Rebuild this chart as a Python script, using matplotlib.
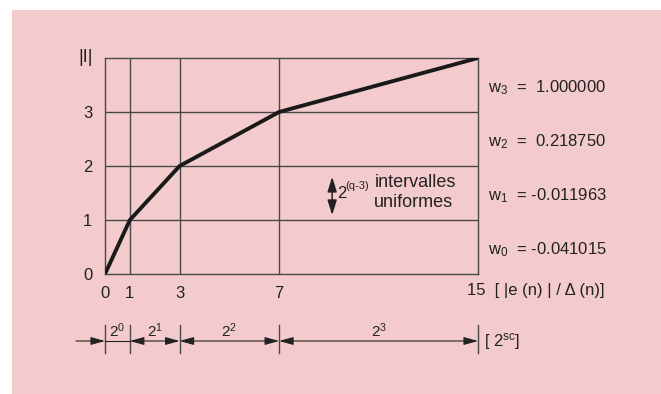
import matplotlib.pyplot as plt
from matplotlib.patches import Rectangle, FancyArrowPatch

plt.rcParams['font.family'] = ['Liberation Sans', 'DejaVu Sans']
plt.rcParams['mathtext.default'] = 'regular'

# quantizer characteristic: breakpoints of |e(n)|/delta(n) against |I|
x_break = [0, 1, 3, 7, 15]
i_level = [0, 1, 2, 3, 4]
x_ticks = [0, 1, 3, 7]
y_ticks = [0, 1, 2, 3]

# segment widths below the axis, 2^0 ... 2^3
seg_edges = [0, 1, 3, 7, 15]
seg_labels = ['$2^{0}$', '$2^{1}$', '$2^{2}$', '$2^{3}$']

# coefficient per level band
w_names = ['w$_{0}$', 'w$_{1}$', 'w$_{2}$', 'w$_{3}$']
w_values = ['-0.041015', '-0.011963', '0.218750', '1.000000']

INK = '#222222'
GRID = '#484848'
PINK = '#f3cbcc'
FS = 12

W, H = 661, 394
fig = plt.figure(figsize=(W / 100, H / 100), dpi=100)
fig.patch.set_facecolor('white')
fig.patches.append(Rectangle((12 / W, -0.1), 1.1, 1.1 - 10 / H, transform=fig.transFigure,
                             facecolor=PINK, edgecolor='none', zorder=-10))

ax = fig.add_axes([105 / W, (H - 274) / H, 373 / W, 216 / H])
ax.set_facecolor('none')
ax.set_xlim(0, 15)
ax.set_ylim(0, 4)
for s in ax.spines.values():
    s.set_color(GRID)
    s.set_linewidth(1.0)
for xv in x_ticks[1:]:
    ax.axvline(xv, color=GRID, lw=1.0)
for yv in y_ticks[1:]:
    ax.axhline(yv, color=GRID, lw=1.0)

ax.plot(x_break, i_level, color='#1a1a1a', lw=2.8, solid_capstyle='round', zorder=5)

ax.set_xticks(x_ticks)
ax.set_xticklabels([str(v) for v in x_ticks])
ax.set_yticks(y_ticks)
ax.set_yticklabels([str(v) for v in y_ticks])
ax.tick_params(length=0, labelsize=FS, colors=INK, pad=9)
ax.tick_params(axis='x', pad=9)

ax.annotate('|I|', xy=(0, 4), xycoords='data', xytext=(-14, 0.5), textcoords='offset points',
            ha='center', va='center', fontsize=13, color=INK)
ax.annotate('15  [ |e (n) | / Δ (n)]', xy=(15, 0), xycoords='data', xytext=(-8, -12),
            textcoords='offset points', ha='left', va='center', fontsize=FS, color=INK)

for k, (nm, val) in enumerate(zip(w_names, w_values)):
    ax.annotate(f'{nm}  =  {val}' if not val.startswith('-') else f'{nm}  = {val}',
                xy=(15, k + 0.45), xycoords='data', xytext=(7, 0), textcoords='offset points',
                ha='left', va='center', fontsize=FS, color=INK)

# uniform interval note inside the band 1..2
ax.add_patch(FancyArrowPatch((0.609, 1.09 / 4), (0.609, 1.80 / 4), transform=ax.transAxes,
                             arrowstyle='<|-|>,head_length=0.9,head_width=0.28',
                             mutation_scale=10, lw=1.1, color=INK, shrinkA=0, shrinkB=0))
ax.text(0.622, 1.50 / 4, '2', transform=ax.transAxes, ha='left', va='center',
        fontsize=FS, color=INK)
ax.text(0.645, 1.63 / 4, '(q-3)', transform=ax.transAxes, ha='left', va='center',
        fontsize=8, color=INK)
ax.text(0.722, 1.69 / 4, 'intervalles', transform=ax.transAxes, ha='left', va='center',
        fontsize=13, color=INK)
ax.text(0.722, 1.32 / 4, 'uniformes', transform=ax.transAxes, ha='left', va='center',
        fontsize=13, color=INK)

# dimension row with 2^k segment widths
bx = fig.add_axes([105 / W, (H - 367) / H, 373 / W, 52 / H])
bx.set_xlim(0, 15)
bx.set_ylim(-1, 1)
bx.axis('off')

head = '-|>,head_length=0.86,head_width=0.24'
both = '<|-|>,head_length=0.86,head_width=0.24'
for e in seg_edges:
    bx.plot([e, e], [-0.46, 0.62], color=GRID, lw=1.0, clip_on=False)
bx.add_patch(FancyArrowPatch((-1.17, 0), (0, 0), arrowstyle=head, mutation_scale=10,
                             lw=0.8, color=INK, shrinkA=0, shrinkB=0, clip_on=False))
bx.plot([0, 1], [0, 0], color=INK, lw=0.8)
for a, b in zip(seg_edges[1:-1], seg_edges[2:]):
    bx.add_patch(FancyArrowPatch((a, 0), (b, 0), arrowstyle=both, mutation_scale=10,
                                 lw=0.8, color=INK, shrinkA=0, shrinkB=0, clip_on=False))
for a, b, lab in zip(seg_edges[:-1], seg_edges[1:], seg_labels):
    bx.text((a + b) / 2, 0.38, lab, ha='center', va='center', fontsize=FS - 1, color=INK)
bx.annotate('[ 2$^{sc}$]', xy=(15, 0), xycoords='data', xytext=(4, 0), textcoords='offset points',
            ha='left', va='center', fontsize=FS, color=INK)

fig.savefig('out.png', dpi=100)
